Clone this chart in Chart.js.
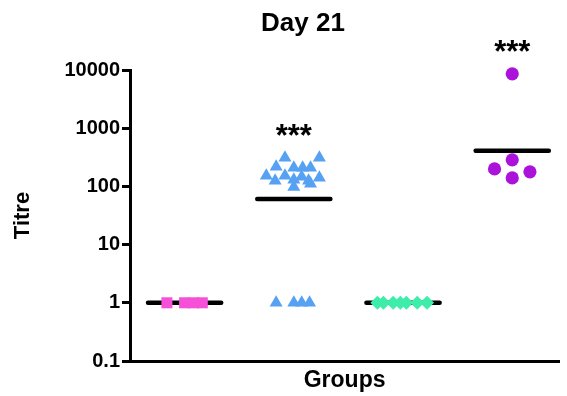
<!DOCTYPE html>
<html>
<head>
<meta charset="utf-8">
<script src="https://cdn.jsdelivr.net/npm/chart.js@4.4.1/dist/chart.umd.min.js"></script>
<style>
  html, body { margin: 0; padding: 0; background: #fff; }
  #wrap { width: 567px; height: 396px; }
</style>
</head>
<body>
<div id="wrap"><canvas id="myChart" width="567" height="396"></canvas></div>
<script>
// values (titre, log scale) and horizontal spread inside each column
const groupNames = ["1", "2", "3", "4"];
const pinkTitre = [1, 1, 1, 1];
const pinkSpread = [-0.162, 0, 0.081, 0.162];
const blueTitre = [310, 310, 217, 209, 209, 209, 152, 152, 146, 141, 125, 130, 125, 111, 98, 1, 1, 1, 1];
const blueSpread = [-0.081, 0.234, -0.162, 0, 0.081, 0.153, -0.252, -0.081, 0.072, 0.234, -0.171, 0, 0.135, 0.153, 0,
                    -0.162, 0, 0.072, 0.144];
const greenTitre = [1, 1, 1, 1, 1, 1, 1];
const greenSpread = [-0.235, -0.18, -0.09, -0.025, 0.03, 0.13, 0.22];
const purpleTitre = [8600, 286, 200, 178, 140];
const purpleSpread = [0, 0, -0.162, 0.162, 0];
const meanTitre = [1, 61, 1, 409];
const starLabels = ["", "***", "", "***"];
const yTicks = [0.1, 1, 10, 100, 1000, 10000];

function init() {
    const canvas = document.getElementById("myChart");
    const boldFont = (size) => ({ family: "Arial, 'Liberation Sans', sans-serif", size: size, weight: "bold" });

    function column(values, spread, g) {
        return values.map((v, i) => ({ x: g + spread[i], y: v }));
    }

    const pointSets = [
        { values: pinkTitre, spread: pinkSpread, color: "#F64FD8", style: "rect", r: 7.8 },
        { values: blueTitre, spread: blueSpread, color: "#56A1F2", style: "triangle", r: 7.5 },
        { values: greenTitre, spread: greenSpread, color: "#3FEDAA", style: "rectRot", r: 7 },
        { values: purpleTitre, spread: purpleSpread, color: "#AB12DA", style: "circle", r: 6.6 }
    ];

    const datasets = [];
    pointSets.forEach((set, i) => {
        datasets.push({
            type: "scatter",
            label: "Group " + groupNames[i],
            data: column(set.values, set.spread, i + 1),
            pointStyle: set.style,
            pointRadius: set.r,
            pointBackgroundColor: set.color,
            pointBorderColor: set.color,
            pointBorderWidth: 0,
            clip: false,
            order: 1
        });
    });

    // mean bars
    meanTitre.forEach((m, i) => {
        datasets.push({
            type: "line",
            label: "Mean " + groupNames[i],
            data: [{ x: i + 1 - 0.335, y: m }, { x: i + 1 + 0.335, y: m }],
            borderColor: "#000",
            borderWidth: 4.5,
            borderCapStyle: "round",
            pointRadius: 0,
            clip: false,
            order: 2
        });
    });

    // title and significance stars
    const textPlugin = {
        id: "texts",
        afterDraw(chart) {
            const ctx = chart.ctx;
            const xs = chart.scales.x;
            const ys = chart.scales.y;
            ctx.save();
            ctx.fillStyle = "#000";
            ctx.textAlign = "center";
            ctx.textBaseline = "middle";
            ctx.font = "bold 26px Arial, 'Liberation Sans', sans-serif";
            ctx.fillText("Day 21", 303, 24);
            ctx.font = "bold 31px Arial, 'Liberation Sans', sans-serif";
            const all = [pinkTitre, blueTitre, greenTitre, purpleTitre];
            starLabels.forEach((s, i) => {
                if (!s) return;
                const top = ys.getPixelForValue(Math.max(...all[i]));
                ctx.fillText(s, xs.getPixelForValue(i + 1), top - 20);
            });
            ctx.restore();
        }
    };

    new Chart(canvas, {
        data: { datasets: datasets },
        options: {
            responsive: false,
            animation: false,
            layout: { padding: { top: 70, right: 0, left: 0, bottom: 0 } },
            plugins: {
                legend: { display: false },
                tooltip: { enabled: false },
                title: { display: false }
            },
            scales: {
                x: {
                    type: "linear",
                    min: 0.5,
                    max: 4.43,
                    grid: { display: false, drawTicks: false },
                    ticks: { display: false },
                    border: { display: true, color: "#000", width: 3 },
                    title: { display: true, text: "Groups", color: "#000", font: boldFont(23), padding: { top: 0, bottom: 2 } },
                    afterFit: (scale) => { scale.height = 35; }
                },
                y: {
                    type: "logarithmic",
                    min: 0.1,
                    max: 10000,
                    afterBuildTicks: (scale) => { scale.ticks = yTicks.map(v => ({ value: v })); },
                    grid: { drawOnChartArea: false, drawTicks: true, tickLength: 8, tickWidth: 3, tickColor: "#000", color: "#000" },
                    border: { display: true, color: "#000", width: 3 },
                    ticks: {
                        color: "#000",
                        font: boldFont(20),
                        padding: 2,
                        callback: (v) => String(v)
                    },
                    title: { display: true, text: "Titre", color: "#000", font: boldFont(22), padding: { top: 10, bottom: 0 } },
                    afterFit: (scale) => { scale.width = 130; }
                }
            }
        },
        plugins: [textPlugin]
    });
}

document.addEventListener("DOMContentLoaded", init);
</script>
</body>
</html>
